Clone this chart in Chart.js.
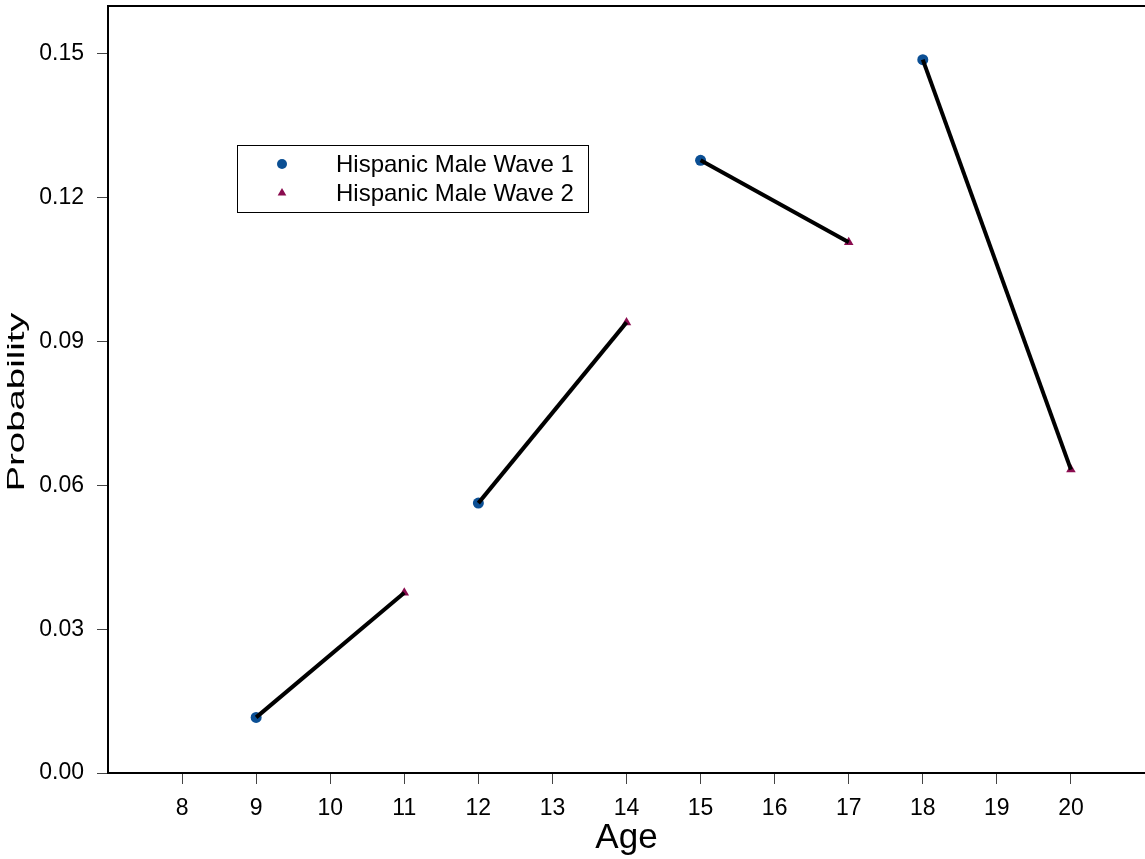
<!DOCTYPE html>
<html>
<head>
<meta charset="utf-8">
<script src="https://cdn.jsdelivr.net/npm/chart.js@4.4.0/dist/chart.umd.min.js"></script>
<style>
  html, body { margin: 0; padding: 0; background: #fff; }
  #wrap { width: 1145px; height: 859px; }
</style>
</head>
<body>
<div id="wrap"><canvas id="myChart" width="1145" height="859"></canvas></div>
<script>
// values
const wave1Ages = [9, 12, 15, 18];
const wave1Values = [0.0116, 0.0563, 0.1278, 0.1488];
const wave2Ages = [11, 14, 17, 20];
const wave2Values = [0.0376, 0.0940, 0.1107, 0.0633];
const seriesLabels = ['Hispanic Male Wave 1', 'Hispanic Male Wave 2'];
const xTicks = [8, 9, 10, 11, 12, 13, 14, 15, 16, 17, 18, 19, 20];
const yTicks = [0, 0.03, 0.06, 0.09, 0.12, 0.15];
const xTitle = 'Age';
const yTitle = 'Probability';

const FONT = "'Liberation Sans', Arial, sans-serif";
const BLUE = '#0b4f94';
const MAROON = '#8a0c4f';

// one black segment per wave1 -> wave2 pair
const segments = wave1Ages.map((a, i) => ({
  type: 'scatter',
  showLine: true,
  data: [{x: a, y: wave1Values[i]}, {x: wave2Ages[i], y: wave2Values[i]}],
  borderColor: '#000',
  borderWidth: 4,
  pointRadius: 0,
  borderCapStyle: 'butt'
}));

const pointSets = [
  {
    label: seriesLabels[0],
    type: 'scatter',
    data: wave1Ages.map((a, i) => ({x: a, y: wave1Values[i]})),
    pointStyle: 'circle',
    pointRadius: 5.5,
    backgroundColor: BLUE,
    borderColor: BLUE,
    borderWidth: 0
  },
  {
    label: seriesLabels[1],
    type: 'scatter',
    data: wave2Ages.map((a, i) => ({x: a, y: wave2Values[i]})),
    pointStyle: 'triangle',
    pointRadius: 5.5,
    backgroundColor: MAROON,
    borderColor: MAROON,
    borderWidth: 0
  }
];

// top frame line, boxed legend and the stretched y title
const extras = {
  id: 'extras',
  afterDraw(chart) {
    const ctx = chart.ctx;
    const a = chart.chartArea;
    ctx.save();
    ctx.strokeStyle = '#000';
    ctx.lineWidth = 2;
    ctx.beginPath();
    ctx.moveTo(a.left - 1, a.top);
    ctx.lineTo(a.right, a.top);
    ctx.stroke();

    // legend box
    ctx.lineWidth = 1;
    ctx.strokeRect(237.5, 145.5, 351, 67);
    const items = chart.data.datasets.filter(d => seriesLabels.includes(d.label));
    ctx.font = '24px ' + FONT;
    ctx.textAlign = 'left';
    ctx.textBaseline = 'middle';
    items.forEach((d, i) => {
      const y = 164 + i * 29;
      ctx.fillStyle = d.backgroundColor;
      ctx.strokeStyle = d.borderColor;
      Chart.helpers.drawPoint(ctx, {pointStyle: d.pointStyle, radius: d.pointRadius - 0.5, rotation: 0, borderWidth: 0}, 282, y);
      ctx.fillStyle = '#000';
      ctx.fillText(d.label, 336, y + 1);
    });

    // y axis title (drawn stretched along its length like the original)
    ctx.font = '24px ' + FONT;
    const w = ctx.measureText(yTitle).width;
    ctx.translate(24, 402);
    ctx.rotate(-Math.PI / 2);
    ctx.scale(179 / w, 1);
    ctx.textAlign = 'center';
    ctx.textBaseline = 'alphabetic';
    ctx.fillStyle = '#000';
    ctx.fillText(yTitle, 0, 0);
    ctx.restore();
  }
};

const ctx = document.getElementById('myChart').getContext('2d');
const myChart = new Chart(ctx, {
  type: 'scatter',
  data: { datasets: [...segments, ...pointSets] },
  options: {
    responsive: false,
    devicePixelRatio: 1,
    animation: false,
    layout: { autoPadding: false, padding: { top: 6, right: 0, left: 0, bottom: 0 } },
    plugins: {
      legend: { display: false },
      tooltip: { enabled: false }
    },
    scales: {
      x: {
        type: 'linear',
        min: 7,
        max: 21,
        afterBuildTicks: s => { s.ticks = xTicks.map(v => ({value: v})); },
        afterFit: s => { s.height = 86; s.paddingLeft = 0; s.paddingRight = 0; },
        border: { color: '#000', width: 2 },
        grid: { drawOnChartArea: false, tickLength: 11, color: '#444', lineWidth: 1 },
        ticks: { color: '#000', padding: 11, font: { family: FONT, size: 23 }, maxRotation: 0, autoSkip: false },
        title: { display: true, text: xTitle, color: '#000', font: { family: FONT, size: 35 }, padding: { top: 0, bottom: 0 } }
      },
      y: {
        type: 'linear',
        min: 0,
        max: 0.16,
        afterBuildTicks: s => { s.ticks = yTicks.map(v => ({value: v})); },
        afterFit: s => { s.width = 108; s.paddingTop = 0; s.paddingBottom = 0; },
        border: { color: '#000', width: 2 },
        grid: { drawOnChartArea: false, tickLength: 11, color: '#444', lineWidth: 1 },
        ticks: {
          color: '#000',
          padding: 13,
          font: { family: FONT, size: 23 },
          autoSkip: false,
          callback: v => v.toFixed(2)
        }
      }
    }
  },
  plugins: [extras]
});
</script>
</body>
</html>
